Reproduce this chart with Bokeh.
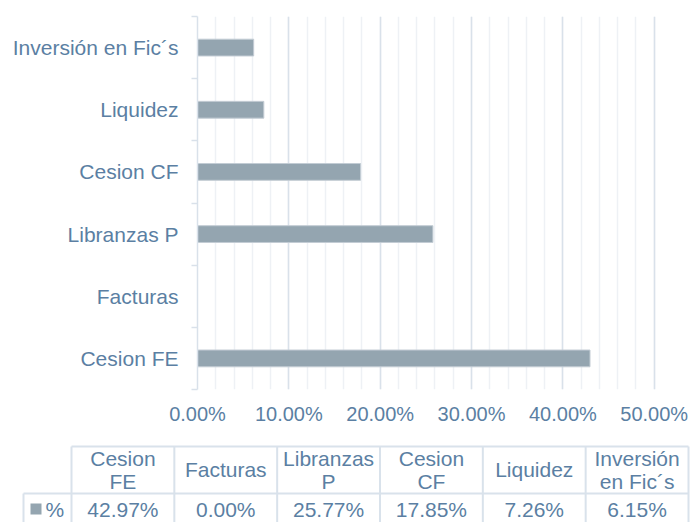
from bokeh.plotting import figure
from bokeh.models import (Range1d, FixedTicker, PrintfTickFormatter, ColumnDataSource)
from bokeh.core.properties import value
from bokeh.embed import file_html
from bokeh.resources import INLINE

# ---- data ----
categories = ["Cesion FE", "Facturas", "Libranzas P", "Cesion CF", "Liquidez", "Inversión en Fic´s"]
table_headers = ["Cesion\nFE", "Facturas", "Libranzas\nP", "Cesion\nCF", "Liquidez", "Inversión\nen Fic´s"]
values = [42.97, 0.00, 25.77, 17.85, 7.26, 6.15]
series_name = "%"
x_ticks = [0, 10, 20, 30, 40, 50]

FONT = "Liberation Sans"
TXT = "#5b7fa3"
BAR = "#94a5b0"
GRID_MAJ = "#d9e1ea"
GRID_MIN = "#eef1f5"
TBL = "#d9e2eb"

W = 690
n = len(categories)
ycent = [i + 0.5 for i in range(n)]

# ---- chart figure ----
p = figure(width=W, height=438, output_backend="svg", toolbar_location=None,
           x_range=Range1d(0, 50.25), y_range=Range1d(0, n),
           min_border_left=197, min_border_right=34, min_border_top=16, min_border_bottom=49)
p.outline_line_color = None
p.background_fill_color = "white"
p.border_fill_color = "white"

src = ColumnDataSource(dict(y=ycent, v=values, c=categories))
p.hbar(y="y", right="v", left=0, height=0.27, source=src,
       fill_color=BAR, line_color="#c3ccd4", line_width=1)

minor = [m for m in range(0, 51, 2)]
xt = FixedTicker(ticks=x_ticks, minor_ticks=minor)
p.xaxis.ticker = xt
p.xaxis.formatter = PrintfTickFormatter(format="%.2f%%")
p.xaxis.axis_line_color = None
p.xaxis.major_tick_line_color = None
p.xaxis.minor_tick_line_color = None
p.xaxis.major_label_standoff = 7
p.xaxis.major_label_text_font = FONT
p.xaxis.major_label_text_font_size = "20px"
p.xaxis.major_label_text_color = TXT

p.xgrid.ticker = xt
p.xgrid.grid_line_color = GRID_MAJ
p.xgrid.grid_line_width = 1.5
p.xgrid.minor_grid_line_color = GRID_MIN
p.xgrid.minor_grid_line_width = 1.5
p.ygrid.grid_line_color = None

yt = FixedTicker(ticks=ycent, minor_ticks=list(range(n + 1)))
p.yaxis.ticker = yt
p.yaxis.major_label_overrides = {y: c for y, c in zip(ycent, categories)}
p.yaxis.axis_line_color = GRID_MAJ
p.yaxis.axis_line_width = 1.5
p.yaxis.major_tick_line_color = None
p.yaxis.major_tick_out = 0
p.yaxis.major_tick_in = 0
p.yaxis.minor_tick_line_color = GRID_MAJ
p.yaxis.minor_tick_line_width = 1.5
p.yaxis.minor_tick_out = 6
p.yaxis.minor_tick_in = 0
p.yaxis.major_label_standoff = 13
p.yaxis.major_label_text_font = FONT
p.yaxis.major_label_text_font_size = "21px"
p.yaxis.major_label_text_color = TXT

# ---- data table figure ----
px_per_col = (688 - 71) / 6.0
x0 = -71 / px_per_col
x1 = x0 + W / px_per_col
legend_left = x0 + 23 / px_per_col
t = figure(width=W, height=84, output_backend="svg", toolbar_location=None,
           x_range=Range1d(x0, x1), y_range=Range1d(0.383, 2.17),
           x_axis_type=None, y_axis_type=None,
           min_border=0, min_border_left=0, min_border_right=0,
           min_border_top=0, min_border_bottom=0)
t.outline_line_color = None
t.grid.visible = False
t.background_fill_color = "white"
t.border_fill_color = "white"

# grid lines of table
t.segment(x0=[0], y0=[2], x1=[6], y1=[2], line_color=TBL, line_width=2)
t.segment(x0=[legend_left], y0=[1], x1=[6], y1=[1], line_color=TBL, line_width=2)
t.segment(x0=list(range(n + 1)), y0=[2] * (n + 1), x1=list(range(n + 1)), y1=[0] * (n + 1),
          line_color=TBL, line_width=2)
t.segment(x0=[legend_left], y0=[1], x1=[legend_left], y1=[0], line_color=TBL, line_width=2)

cx = [i + 0.5 for i in range(n)]
tsrc = ColumnDataSource(dict(x=cx, h=table_headers,
                             v=[f"{v:.2f}%" for v in values]))
t.text(x="x", y=1.5, text="h", source=tsrc, text_align="center", text_baseline="middle",
       text_font=value(FONT), text_font_size="21px", text_color=TXT, text_line_height=1.0)
t.text(x="x", y=0.66, text="v", source=tsrc, text_align="center", text_baseline="middle",
       text_font=value(FONT), text_font_size="21px", text_color=TXT)

# legend key
t.scatter(x=[legend_left + 12.5 / px_per_col], y=[0.67], marker="square", size=11,
          fill_color=BAR, line_color=None)
t.text(x=[legend_left + 22 / px_per_col], y=[0.66], text=[series_name], text_align="left",
       text_baseline="middle", text_font=value(FONT), text_font_size="21px", text_color=TXT)

open("out.html", "w").write(file_html([p, t], INLINE))
